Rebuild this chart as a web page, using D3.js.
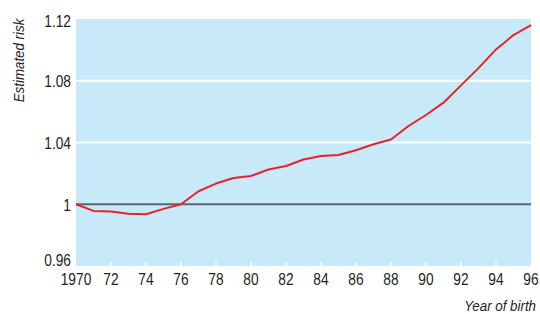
<!DOCTYPE html>
<html>
<head>
<meta charset="utf-8">
<script src="https://cdn.jsdelivr.net/npm/d3@7"></script>
<style>
  body { margin: 0; background: #fff; }
  svg text { font-family: "Liberation Sans", Arial, sans-serif; fill: #231f20; }
</style>
</head>
<body>
<div id="chart"></div>
<script>
const years = d3.range(1970, 1997);
const risk = [1.0, 0.9957, 0.9953, 0.9938, 0.9935, 0.997, 1.0, 1.0084, 1.0134, 1.017, 1.0183,
  1.0225, 1.0248, 1.029, 1.0313, 1.0319, 1.035, 1.0389, 1.0419, 1.0507, 1.0578,
  1.0658, 1.077, 1.0882, 1.1003, 1.1096, 1.116];
const yTicks = [0.96, 1, 1.04, 1.08, 1.12];
const xTicks = d3.range(1970, 1997, 2);

// the original uses a condensed face, so squeeze the text horizontally
const squeeze = 0.86;

function drawChart() {
  const width = 540, height = 314;
  const m = { left: 76, right: 9, top: 19, bottom: 48 };
  const svg = d3.select("#chart").append("svg").attr("width", width).attr("height", height);

  const x = d3.scaleLinear().domain([1970, 1996]).range([m.left, width - m.right]);
  const y = d3.scaleLinear().domain([0.96, 1.12]).range([height - m.bottom, m.top]);

  svg.append("rect").attr("x", x(1970)).attr("y", y(1.12))
    .attr("width", x(1996) - x(1970)).attr("height", y(0.96) - y(1.12))
    .attr("fill", "#c7e9f8");

  // white grid lines
  svg.append("g").selectAll("line").data([1.04, 1.08]).join("line")
    .attr("x1", x(1970)).attr("x2", x(1996))
    .attr("y1", d => y(d)).attr("y2", d => y(d))
    .attr("stroke", "#fff").attr("stroke-width", 2);

  // small white ticks on the bottom edge
  svg.append("g").selectAll("line").data(xTicks.filter(d => d > 1970 && d < 1996)).join("line")
    .attr("x1", d => x(d)).attr("x2", d => x(d))
    .attr("y1", y(0.96)).attr("y2", y(0.96) - 4)
    .attr("stroke", "#fff").attr("stroke-width", 1.5);

  // reference line at 1
  svg.append("line").attr("x1", x(1970)).attr("x2", x(1996))
    .attr("y1", y(1)).attr("y2", y(1))
    .attr("stroke", "#5c656d").attr("stroke-width", 2);

  const line = d3.line().x((d, i) => x(years[i])).y(d => y(d));
  svg.append("path").datum(risk).attr("d", line)
    .attr("fill", "none").attr("stroke", "#e8222c").attr("stroke-width", 2)
    .attr("stroke-linejoin", "round");

  // axis labels
  const yShift = d => d === 0.96 ? -6 : d === 1.12 ? 2 : 0.5;
  svg.append("g").selectAll("text").data(yTicks).join("text")
    .attr("transform", d => `translate(${m.left - 5},${y(d) + yShift(d)}) scale(${squeeze},1)`)
    .attr("dy", "0.36em")
    .attr("text-anchor", "end").attr("font-size", 16)
    .text(d => d === 1 ? "1" : d3.format(".2f")(d));

  svg.append("g").selectAll("text").data(xTicks).join("text")
    .attr("transform", d => `translate(${x(d)},284.5) scale(${squeeze},1)`)
    .attr("text-anchor", "middle").attr("font-size", 16)
    .text(d => d === 1970 ? "1970" : String(d).slice(2));

  svg.append("text").attr("transform", `translate(24,60.5) rotate(-90) scale(${squeeze},1)`)
    .attr("text-anchor", "middle").attr("font-size", 15.5).attr("font-style", "italic")
    .text("Estimated risk");

  svg.append("text").attr("transform", `translate(536,311) scale(${squeeze},1)`)
    .attr("text-anchor", "end").attr("font-size", 15.5).attr("font-style", "italic")
    .text("Year of birth");
}

document.addEventListener("DOMContentLoaded", () => {
  drawChart();
});
</script>
</body>
</html>
